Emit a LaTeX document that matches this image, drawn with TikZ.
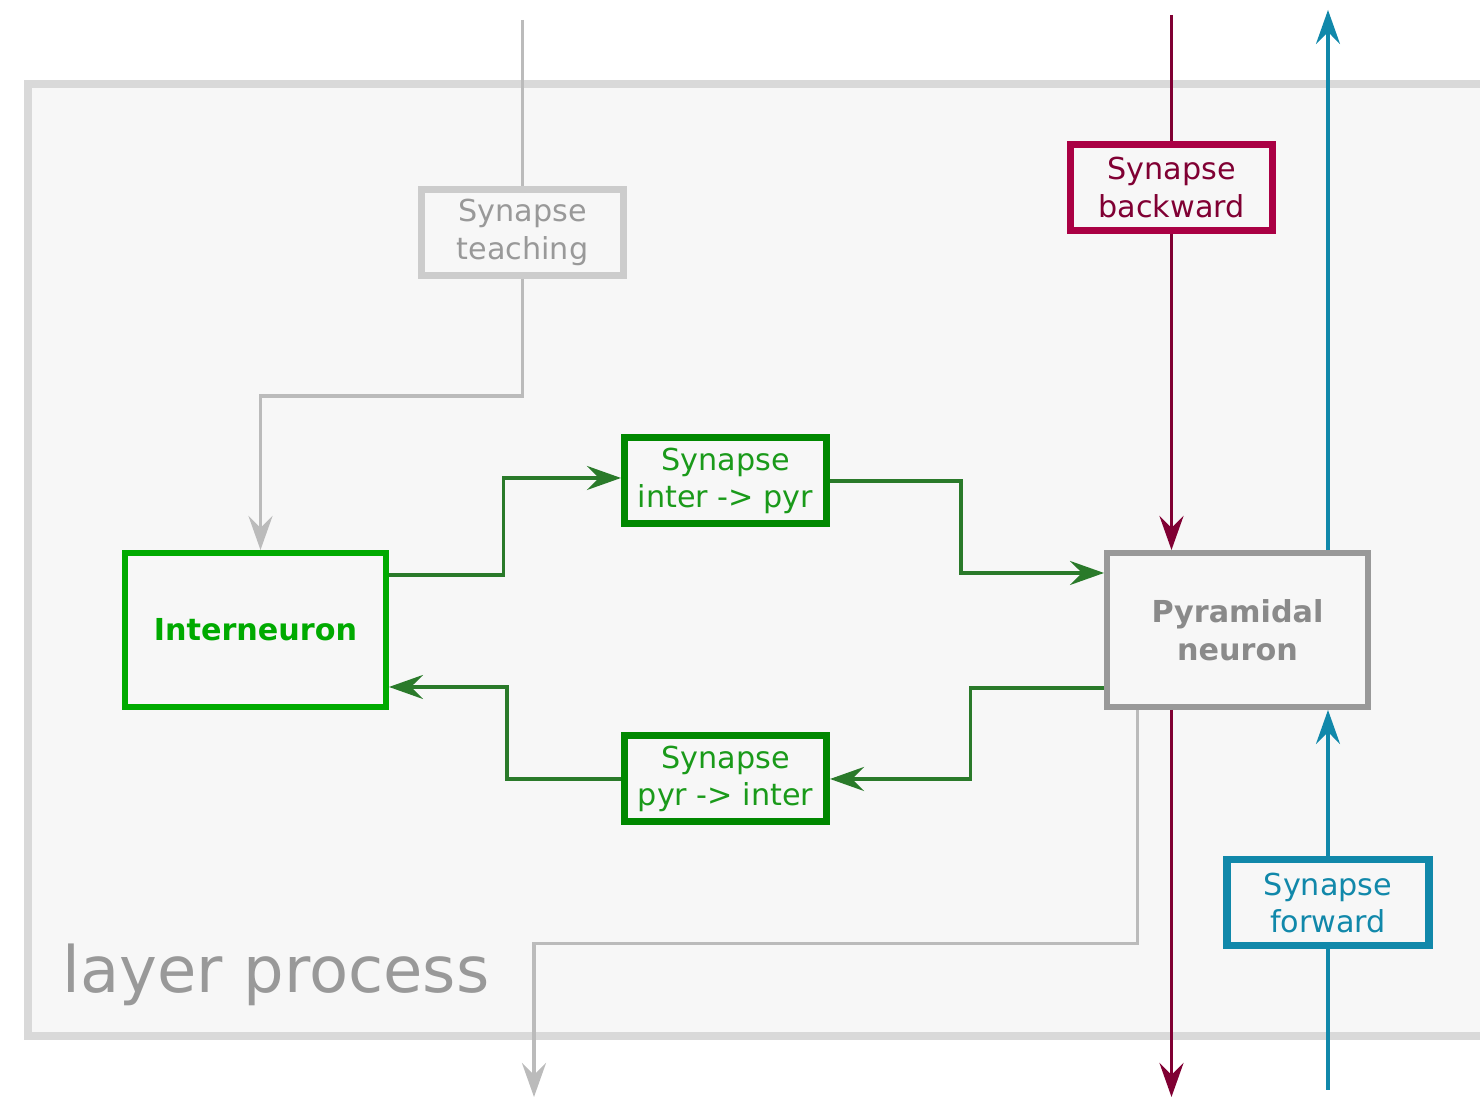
\documentclass[tikz,border=0pt]{standalone}
\usepackage{fontspec}
\setmainfont{DejaVu Sans}
\usetikzlibrary{arrows.meta}

\definecolor{layerfill}{HTML}{F7F7F7}
\definecolor{layerline}{HTML}{D9D9D9}
\definecolor{teachline}{HTML}{BBBBBB}
\definecolor{teachbox}{HTML}{CCCCCC}
\definecolor{interc}{HTML}{00AA00}
\definecolor{sync}{HTML}{008800}
\definecolor{syntext}{HTML}{1A9A1A}
\definecolor{conngreen}{HTML}{2A7A2A}
\definecolor{pyrc}{HTML}{999999}
\definecolor{backbox}{HTML}{AA0044}
\definecolor{backline}{HTML}{800033}
\definecolor{fwdc}{HTML}{1188AA}

\begin{document}
\begin{tikzpicture}[
    >={Stealth[length=3.4mm,width=2.4mm,inset=1.2mm]},
    synbox/.style={draw, line width=2pt, fill=layerfill, minimum width=2.02cm,
      minimum height=0.86cm, align=center, inner sep=0pt,
      font=\fontsize{8.6}{10.6}\selectfont},
    cellbox/.style={draw, line width=1.7pt, fill=layerfill, minimum width=2.61cm,
      minimum height=1.54cm, align=center, inner sep=0pt,
      font=\fontsize{8.6}{10.8}\selectfont\bfseries},
    conn/.style={line width=1pt, conngreen}
  ]
\clip (0,0) rectangle (14.8,10.98);

% layer
\draw[layerline, fill=layerfill, line width=2.2pt] (0.28,0.62) rectangle (15.2,10.14);
\node [anchor=base west, inner sep=0pt, text=pyrc, font=\fontsize{18.2}{22}\selectfont]
  (layer) at (0.62,1.05) {layer process};

% cells
\node [cellbox, draw=interc, text=interc] (inter) at (2.555,4.68) {Interneuron};
\node [cellbox, draw=pyrc, text=pyrc!90!black] (pyr) at (12.375,4.68) {Pyramidal\\neuron};

% synapses
\node [synbox, draw=teachbox, text=pyrc] (teach) at (5.225,8.655) {Synapse\\teaching};
\node [synbox, draw=sync, text=syntext] (ip) at (7.255,6.17) {Synapse\\inter -> pyr};
\node [synbox, draw=sync, text=syntext] (pi) at (7.255,3.19) {Synapse\\pyr -> inter};
\node [synbox, draw=backbox, text=backline] (back) at (11.715,9.105) {Synapse\\backward};
\node [synbox, draw=fwdc, text=fwdc] (fwd) at (13.28,1.95) {Synapse\\forward};

% in- and outputs of the layer
\coordinate (teachin) at (5.225,10.78);
\coordinate (backin) at (11.715,10.83);
\coordinate (backout) at (11.715,0.01);
\coordinate (fwdin) at (13.28,0.08);
\coordinate (fwdout) at (13.28,10.88);
\coordinate (out) at (5.34,0.01);

% teaching
\draw[teachline, line width=1pt] (teachin) -- (teach.north);
\draw[teachline, line width=1pt, ->] (teach.south) -- ++(0,-1.17) -| ([xshift=0.5mm]inter.north);
\draw[teachline, line width=1pt, ->] ([xshift=-1cm]pyr.south) -- ++(0,-2.335) -| (out);

% backward
\draw[backline, line width=1pt] (backin) -- (back.north);
\draw[backline, line width=1pt, ->] (back.south) -- (back.south |- pyr.north);
\draw[backline, line width=1pt, ->] (back.south |- pyr.south) -- (backout);

% forward
\draw[fwdc, line width=1pt] (fwdin) -- (fwd.south);
\draw[fwdc, line width=1pt, ->] (fwd.north) -- (fwd.north |- pyr.south);
\draw[fwdc, line width=1pt, ->] (fwd.north |- pyr.north) -- (fwdout);

% inter <-> pyr
\draw[conn, ->] ([yshift=5.5mm]inter.east) -- ++(1.145,0) |- ([yshift=0.3mm]ip.west);
\draw[conn, ->] (ip.east) -- ++(1.31,0) |- ([yshift=5.7mm]pyr.west);
\draw[conn, ->] ([yshift=-5.8mm]pyr.west) -- ++(-1.335,0) |- (pi.east);
\draw[conn, ->] (pi.west) -- ++(-1.14,0) |- ([yshift=-5.7mm]inter.east);

\end{tikzpicture}
\end{document}
